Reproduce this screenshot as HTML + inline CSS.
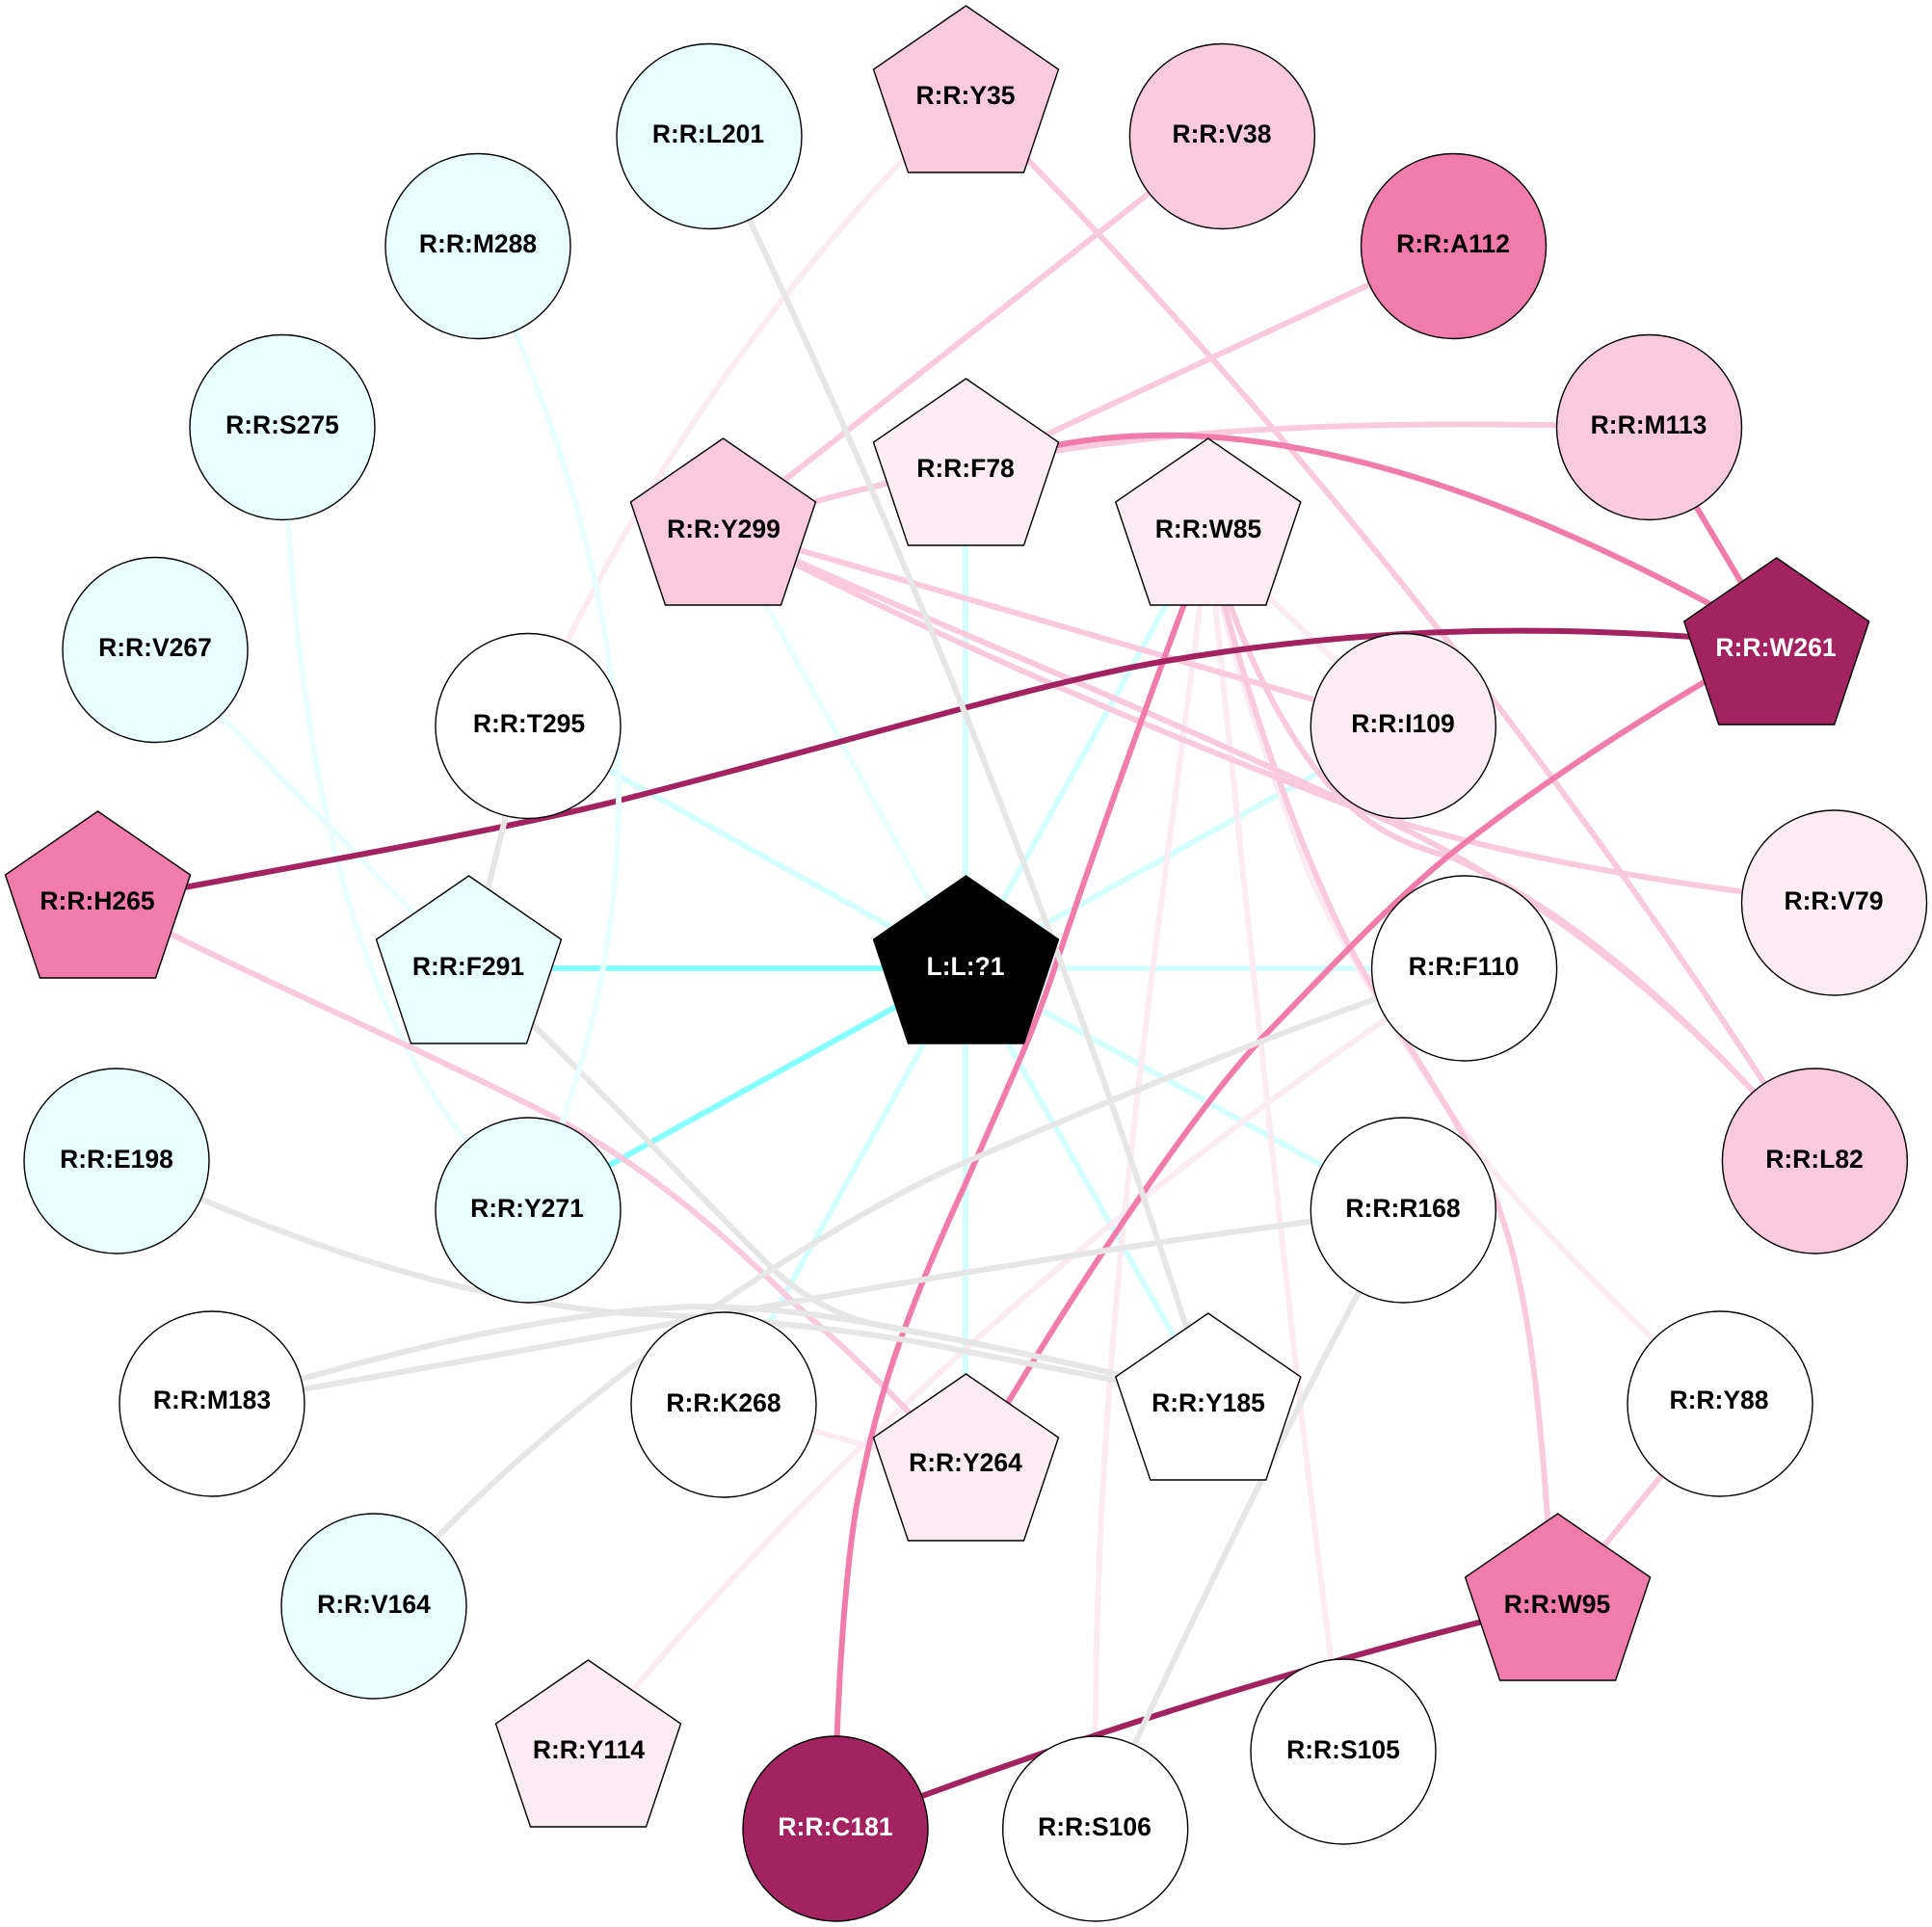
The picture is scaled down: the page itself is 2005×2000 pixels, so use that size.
<!DOCTYPE html>
<html><head><meta charset="utf-8"><style>
html,body{margin:0;padding:0;background:#fff}
svg{display:block}
text{font-family:"Liberation Sans",Arial,sans-serif;font-weight:bold;font-size:26.5px;text-anchor:middle;fill:#000}
path.e{fill:none;stroke-width:6}
.c1{stroke:#e9ffff}.c2{stroke:#d4ffff}.c3{stroke:#86ffff}.g{stroke:#e6e6e6}
.p1{stroke:#fbebf3}.p2{stroke:#f9c9de}.p3{stroke:#f17cab}.p4{stroke:#a2235f}
circle,polygon{stroke:#000;stroke-width:1.4}
.fa{fill:#e9ffff}.fw{fill:#fff}.f1{fill:#fbebf3}.f2{fill:#f9c9de}.f3{fill:#f17cab}.f4{fill:#a2235f}
</style></head><body>
<svg width="2005" height="2000" viewBox="0 0 2005 2000" xmlns="http://www.w3.org/2000/svg">
<!-- pale cyan / cyan -->
<path class="e c1" d="M161 674L486 1005"/>
<path class="e c1" d="M293 443C310 800 360 1080 548 1256"/>
<path class="e c1" d="M751 548L1002 1005"/>
<path class="e c2" d="M548 753L1002 1005"/>
<path class="e c2" d="M1002 490L1002 1530"/>
<path class="e c2" d="M1254 548L1002 1005"/>
<path class="e c2" d="M1456 753L1002 1005"/>
<path class="e c2" d="M1519 1005L1002 1005"/>
<path class="e c2" d="M1456 1256L1002 1005"/>
<path class="e c2" d="M1254 1450L1002 1005"/>
<path class="e c2" d="M751 1458L1002 1005"/>
<path class="e c3" d="M486 1005L1002 1005"/>
<path class="e c3" d="M548 1256L1002 1005"/>
<!-- pale pink -->
<path class="e p1" d="M1002 100Q711 382 548 753"/>
<path class="e p1" d="M1254 560L1456 753"/>
<path class="e p1" d="M751 1458L1002 1530"/>
<path class="e p1" d="M610 1810C790 1590 1080 1290 1519 1004"/>
<path class="e p1" d="M1254 560C1200 1000 1130 1400 1137 1898"/>
<path class="e p1" d="M1254 560C1300 1000 1350 1500 1394 1818"/>
<path class="e p1" d="M1254 560C1280 700 1320 800 1357 903C1390 980 1470 1110 1551 1217C1610 1290 1700 1375 1785 1457"/>
<!-- pink -->
<path class="e p2" d="M1002 100Q1502 602 1883 1205"/>
<path class="e p2" d="M1268 141L751 548"/>
<path class="e p2" d="M1508 255L1002 490"/>
<path class="e p2" d="M1711 443C1350 435 1100 440 751 548"/>
<path class="e p2" d="M751 548L1456 753"/>
<path class="e p2" d="M751 548C950 650 1150 740 1397 835C1550 890 1750 920 1903 937"/>
<path class="e p2" d="M751 548C950 640 1180 730 1397 833C1560 900 1740 1030 1883 1205"/>
<path class="e p2" d="M1254 560C1300 760 1370 930 1410 1000C1450 1070 1520 1170 1551 1242C1590 1340 1600 1480 1612 1664"/>
<path class="e p2" d="M1254 560C1290 680 1340 780 1397 833C1435 868 1470 880 1507 890C1640 950 1770 1070 1883 1205"/>
<path class="e p2" d="M1785 1457L1616 1664"/>
<path class="e p2" d="M101 930C250 1010 420 1080 574 1159C680 1215 760 1290 829 1357C890 1410 950 1470 1002 1530"/>
<!-- mid pink -->
<path class="e p3" d="M1711 443L1843 665"/>
<path class="e p3" d="M1002 490C1150 430 1400 410 1843 665"/>
<path class="e p3" d="M867 1898C867 1750 880 1600 893 1542C905 1480 925 1395 1000 1233C1040 1140 1070 1080 1096 1000C1140 870 1190 730 1254 560"/>
<path class="e p3" d="M1843 665C1700 745 1590 820 1506 886C1440 940 1385 1000 1314 1073C1250 1140 1130 1310 1002 1530"/>
<!-- dark -->
<path class="e p4" d="M1843 668C1650 650 1450 645 1210 686C1080 708 900 765 638 832C500 866 300 900 101 938"/>
<path class="e p4" d="M867 1898C1120 1800 1380 1720 1616 1664"/>
<!-- grey -->
<path class="e g" d="M548 753L486 1005"/>
<path class="e g" d="M736 141Q1044 775 1254 1450"/>
<path class="e g" d="M486 1000C600 1105 700 1215 797 1312C830 1345 870 1368 920 1377C945 1382 970 1386 990 1390C1090 1410 1180 1430 1254 1450"/>
<path class="e g" d="M121 1205C300 1290 480 1350 650 1363C780 1368 900 1382 990 1400C1090 1420 1180 1436 1254 1452"/>
<path class="e g" d="M220 1458C400 1405 560 1362 720 1356C820 1356 910 1374 990 1390C1090 1410 1180 1430 1254 1450"/>
<path class="e g" d="M220 1458C600 1395 1000 1310 1456 1256"/>
<path class="e g" d="M388 1667C600 1420 900 1250 1000 1207C1200 1120 1360 1060 1519 1004"/>
<path class="e g" d="M1456 1256C1350 1450 1250 1650 1137 1898"/>
<!-- over dark -->
<path class="e c1" d="M496 255C640 570 712 880 548 1256"/>
<!-- nodes -->
<circle class="fa" cx="736" cy="141.5" r="96"/><text x="735" y="148">R:R:L201</text>
<circle class="fa" cx="496" cy="255.5" r="96"/><text x="496" y="262">R:R:M288</text>
<circle class="fa" cx="293" cy="443.5" r="96"/><text x="293" y="450">R:R:S275</text>
<circle class="fa" cx="161" cy="674.5" r="96"/><text x="161" y="681">R:R:V267</text>
<circle class="fw" cx="548" cy="753.5" r="96"/><text x="549" y="760">R:R:T295</text>
<circle class="f2" cx="1268.4" cy="141.5" r="96"/><text x="1268" y="148">R:R:V38</text>
<circle class="f3" cx="1508.5" cy="255.5" r="96"/><text x="1508" y="262">R:R:A112</text>
<circle class="f2" cx="1711.5" cy="443.5" r="96"/><text x="1711" y="450">R:R:M113</text>
<circle class="f1" cx="1456.3" cy="753.5" r="96"/><text x="1456" y="760">R:R:I109</text>
<circle class="f1" cx="1903.5" cy="937" r="96"/><text x="1903" y="944">R:R:V79</text>
<circle class="fw" cx="1519.6" cy="1005" r="96"/><text x="1519" y="1012">R:R:F110</text>
<circle class="fw" cx="1456.3" cy="1256" r="96"/><text x="1456" y="1263">R:R:R168</text>
<circle class="f2" cx="1883.4" cy="1205" r="96"/><text x="1883" y="1212">R:R:L82</text>
<circle class="fw" cx="1785" cy="1457" r="96"/><text x="1784" y="1462">R:R:Y88</text>
<circle class="fw" cx="1394" cy="1818" r="96"/><text x="1394" y="1825">R:R:S105</text>
<circle class="fw" cx="1136.7" cy="1898" r="96"/><text x="1136" y="1905">R:R:S106</text>
<circle class="f4" cx="867" cy="1898" r="96"/><text x="867" y="1905" style="fill:#fff">R:R:C181</text>
<circle class="fa" cx="388" cy="1667" r="96"/><text x="388" y="1674">R:R:V164</text>
<circle class="fw" cx="751" cy="1458" r="96"/><text x="751" y="1465">R:R:K268</text>
<circle class="fw" cx="220" cy="1457" r="96"/><text x="220" y="1462">R:R:M183</text>
<circle class="fa" cx="121" cy="1205" r="96"/><text x="121" y="1212">R:R:E198</text>
<circle class="fa" cx="548" cy="1256" r="96"/><text x="547" y="1263">R:R:Y271</text>
<polygon class="f2" points="1002.5,6 1098.5,72 1062.5,179 942.5,179 906.5,72"/><text x="1002" y="108">R:R:Y35</text>
<polygon class="f1" points="1002.5,393 1098.5,459 1062.5,566 942.5,566 906.5,459"/><text x="1002" y="495">R:R:F78</text>
<polygon class="f2" points="750.5,455 846.5,521 810.5,628 690.5,628 654.5,521"/><text x="751" y="558">R:R:Y299</text>
<polygon class="f1" points="1253.8,455 1349.8,521 1313.8,628 1193.8,628 1157.8,521"/><text x="1254" y="558">R:R:W85</text>
<polygon class="f4" points="1843.7,579 1939.7,645 1903.7,752 1783.7,752 1747.7,645"/><text x="1843" y="681" style="fill:#fff">R:R:W261</text>
<polygon class="f3" points="101.5,842 197.5,908 161.5,1015 41.5,1015 5.5,908"/><text x="101" y="944">R:R:H265</text>
<polygon class="fa" points="486.5,909 582.5,975 546.5,1083 426.5,1083 390.5,975"/><text x="486" y="1012">R:R:F291</text>
<polygon style="fill:#000" points="1002.5,909 1098.5,975 1062.5,1083 942.5,1083 906.5,975"/><text x="1002" y="1012" style="fill:#fff">L:L:?1</text>
<polygon class="f1" points="1002.5,1426 1098.5,1492 1062.5,1599 942.5,1599 906.5,1492"/><text x="1002" y="1527">R:R:Y264</text>
<polygon class="fw" points="1253.8,1363 1349.8,1429 1313.8,1536 1193.8,1536 1157.8,1429"/><text x="1254" y="1465">R:R:Y185</text>
<polygon class="f3" points="1616.6,1571 1712.6,1637 1676.6,1744 1556.6,1744 1520.6,1637"/><text x="1616" y="1674">R:R:W95</text>
<polygon class="f1" points="610.5,1723 706.5,1789 670.5,1896 550.5,1896 514.5,1789"/><text x="611" y="1825">R:R:Y114</text>
</svg>
</body></html>
